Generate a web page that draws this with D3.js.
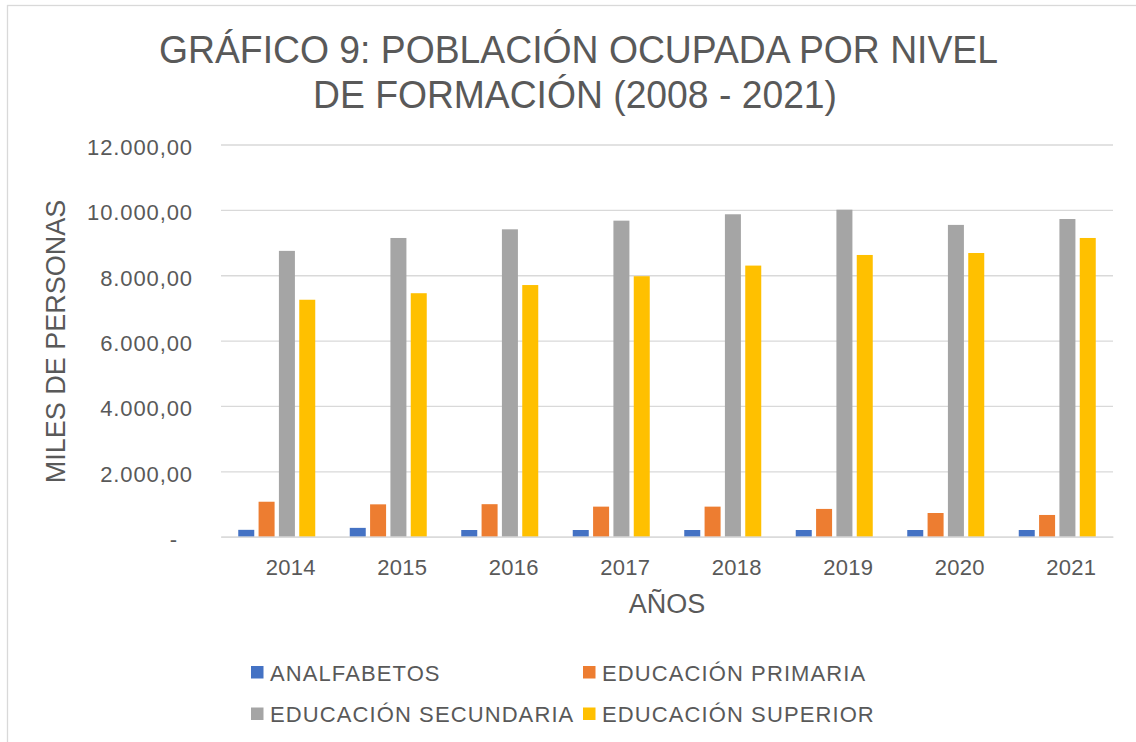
<!DOCTYPE html>
<html>
<head>
<meta charset="utf-8">
<script src="https://cdn.jsdelivr.net/npm/d3@7"></script>
<style>
  html, body { margin: 0; padding: 0; background: #fff; }
  svg text { font-family: "Liberation Sans", Arial, sans-serif; fill: #595959; }
</style>
</head>
<body>
<div id="chart"></div>
<script>
const years = ['2014', '2015', '2016', '2017', '2018', '2019', '2020', '2021'];
const seriesNames = ['ANALFABETOS', 'EDUCACIÓN PRIMARIA', 'EDUCACIÓN SECUNDARIA', 'EDUCACIÓN SUPERIOR'];
const analfabetos = [210, 270, 205, 205, 205, 205, 205, 205];
const primaria = [1070, 990, 995, 920, 920, 850, 725, 665];
const secundaria = [8745, 9140, 9405, 9670, 9865, 10005, 9540, 9720];
const superior = [7250, 7450, 7700, 7970, 8295, 8620, 8680, 9140];
const yTicks = [0, 2000, 4000, 6000, 8000, 10000, 12000];
const colors = ['#4472C4', '#ED7D31', '#A5A5A5', '#FFC000'];

const values = [analfabetos, primaria, secundaria, superior];
const data = years.map((yr, i) => ({
  year: yr,
  items: seriesNames.map((s, j) => ({ name: s, value: values[j][i] }))
}));

const W = 1136, H = 742;
const plot = { left: 221, right: 1113, top: 144.5, bottom: 536.7 };

const svg = d3.select('#chart').append('svg')
  .attr('width', W)
  .attr('height', H);

// chart area frame (only top and left edges are visible)
svg.append('rect')
  .attr('x', 7.5).attr('y', 5.5)
  .attr('width', 1300).attr('height', 900)
  .attr('fill', 'none')
  .attr('stroke', '#d9d9d9')
  .attr('stroke-width', 1.3);

const y = d3.scaleLinear().domain([0, 12000]).range([plot.bottom, plot.top]);
const x0 = d3.scaleBand().domain(years).range([plot.left, plot.right]);
const x1 = d3.scaleBand().domain(seriesNames)
  .range([17.25, x0.bandwidth() - 17.25])
  .paddingInner(0.213);
const color = d3.scaleOrdinal().domain(seriesNames).range(colors);

const fmt = v => v === 0 ? '-' : d3.formatLocale({ decimal: ',', thousands: '.', grouping: [3] }).format(',.2f')(v);

// y axis + gridlines
const yAxis = svg.append('g')
  .attr('transform', `translate(${plot.left},0)`)
  .call(d3.axisLeft(y).tickValues(yTicks).tickFormat(fmt)
    .tickSize(-(plot.right - plot.left)).tickPadding(28));
yAxis.select('.domain').remove();
yAxis.selectAll('.tick line').attr('stroke', '#d9d9d9').attr('stroke-width', 1.3);
yAxis.selectAll('.tick text')
  .attr('dy', '0.45em')
  .attr('dx', d => d === 0 ? -15 : 0)
  .style('font-size', '22px')
  .style('letter-spacing', '0.9px')
  .attr('fill', '#595959');

// bars
svg.append('g')
  .selectAll('g')
  .data(data)
  .join('g')
  .attr('transform', d => `translate(${x0(d.year)},0)`)
  .selectAll('rect')
  .data(d => d.items)
  .join('rect')
  .attr('x', d => x1(d.name))
  .attr('y', d => y(d.value))
  .attr('width', x1.bandwidth())
  .attr('height', d => y(0) - y(d.value))
  .attr('fill', d => color(d.name));

// x axis
const xAxis = svg.append('g')
  .attr('transform', `translate(0,${plot.bottom})`)
  .call(d3.axisBottom(x0).tickSize(0).tickPadding(23));
xAxis.select('.domain').attr('stroke', '#d9d9d9').attr('stroke-width', 1.3);
xAxis.selectAll('.tick text')
  .attr('dx', 14)
  .style('font-size', '22px')
  .style('letter-spacing', '0.3px')
  .attr('fill', '#595959');

// titles (slightly condensed like the original)
const title = svg.append('g').style('font-size', '39px');
title.append('text')
  .attr('x', 159).attr('y', 63.3)
  .attr('textLength', 839).attr('lengthAdjust', 'spacingAndGlyphs')
  .text('GRÁFICO 9: POBLACIÓN OCUPADA POR NIVEL');
title.append('text')
  .attr('x', 313).attr('y', 108.3)
  .attr('textLength', 524).attr('lengthAdjust', 'spacingAndGlyphs')
  .text('DE FORMACIÓN (2008 - 2021)');

svg.append('text')
  .attr('text-anchor', 'middle')
  .attr('transform', `translate(65,341.5) rotate(-90)`)
  .style('font-size', '27px')
  .text('MILES DE PERSONAS');

svg.append('text')
  .attr('x', (plot.left + plot.right) / 2)
  .attr('y', 613.3)
  .attr('text-anchor', 'middle')
  .style('font-size', '27px')
  .text('AÑOS');

// legend
const legendPos = [[251, 672], [583, 672], [251, 713.5], [583, 713.5]];
const legend = svg.append('g')
  .selectAll('g')
  .data(seriesNames)
  .join('g')
  .attr('transform', (d, i) => `translate(${legendPos[i][0]},${legendPos[i][1]})`);
legend.append('rect')
  .attr('x', 0).attr('y', -6)
  .attr('width', 12.5).attr('height', 12.5)
  .attr('fill', d => color(d));
legend.append('text')
  .attr('x', 19)
  .attr('y', 8.7)
  .style('font-size', '22px')
  .style('letter-spacing', '1.1px')
  .text(d => d);
</script>
</body>
</html>
